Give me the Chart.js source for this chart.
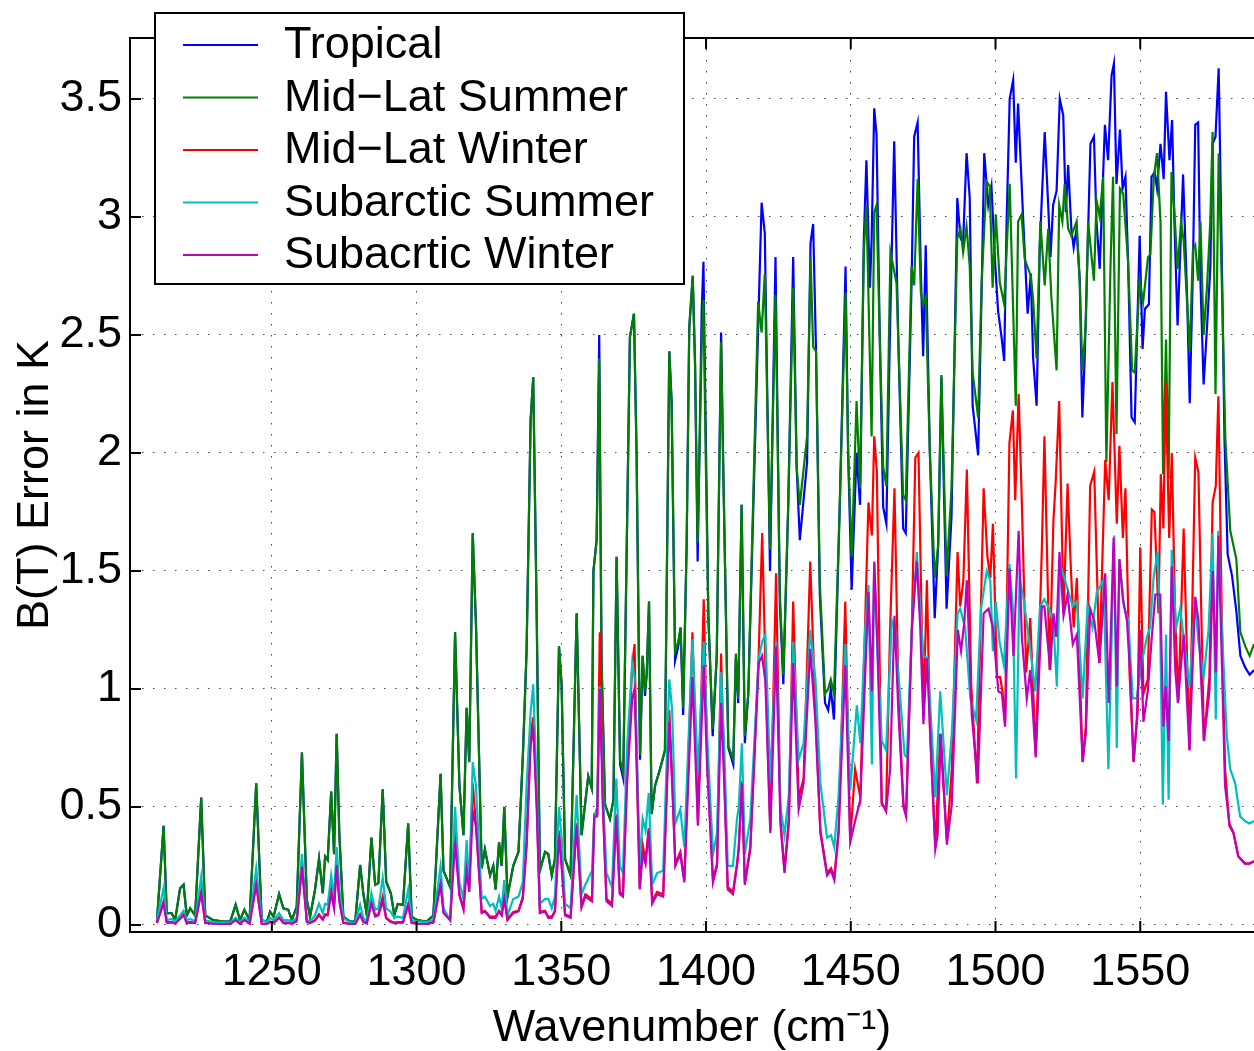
<!DOCTYPE html>
<html>
<head>
<meta charset="utf-8">
<script src="https://cdn.jsdelivr.net/npm/chart.js@4.4.1/dist/chart.umd.min.js"></script>
<style>
  html, body { margin: 0; padding: 0; background: #fff; }
  canvas { display: block; }
</style>
</head>
<body>
<canvas id="btChart" width="1254" height="1051"></canvas>
<script>
// 各大氣模式的亮溫誤差 (K) 對波數 (cm^-1)

const seriesLabels = ['Tropical', 'Mid\u2212Lat Summer', 'Mid\u2212Lat Winter', 'Subarctic Summer', 'Subacrtic Winter'];
const seriesColors = ['#0000ff', '#008000', '#ff0000', '#00bfbf', '#bf00bf'];

const xTicks = [1250, 1300, 1350, 1400, 1450, 1500, 1550];
const yTicks = [0, 0.5, 1, 1.5, 2, 2.5, 3, 3.5];

// 1210-1357: 五條曲線共用的波數
const wnLeft = [
  1210.3, 1212.6, 1213.7, 1215.4, 1216.6, 1218.3, 1219.5, 1220.6, 1221.8, 1223.5,
  1225.6, 1227.0, 1229.8, 1233.3, 1235.6, 1237.5, 1239.0, 1240.5, 1242.3, 1244.6,
  1246.5, 1248.3, 1249.4, 1250.6, 1252.5, 1254.0, 1255.7, 1256.9, 1258.6, 1260.4,
  1262.1, 1263.2, 1264.9, 1266.3, 1267.6, 1268.4, 1269.3, 1270.5, 1271.5, 1272.4,
  1273.3, 1274.7, 1277.0, 1278.8, 1280.5, 1281.6, 1282.8, 1284.4, 1285.7, 1286.8,
  1288.3, 1289.5, 1291.1, 1292.3, 1293.5, 1295.3, 1297.1, 1298.3, 1300.1, 1303.5,
  1305.8, 1308.3, 1309.3, 1311.6, 1313.3, 1314.8, 1316.2, 1317.3, 1318.2, 1319.4,
  1320.5, 1322.5, 1323.6, 1325.4, 1326.5, 1327.3, 1328.5, 1329.4, 1330.3, 1331.4,
  1333.4, 1335.2, 1336.7, 1338.0, 1339.4, 1340.3, 1341.5, 1342.6, 1344.4, 1345.5,
  1346.7, 1347.8, 1349.2, 1350.1, 1351.3, 1353.2, 1355.3, 1357.0
];
// Tropical 與 Mid-Lat Summer 在此段幾乎重合
const btLeftHigh = [
  0.014, 0.42, 0.05, 0.05, 0.02, 0.155, 0.17, 0.04, 0.07, 0.04,
  0.54, 0.04, 0.02, 0.014, 0.014, 0.085, 0.02, 0.064, 0.02, 0.60,
  0.02, 0.014, 0.056, 0.035, 0.13, 0.07, 0.064, 0.02, 0.078, 0.73,
  0.106, 0.035, 0.148, 0.28, 0.134, 0.29, 0.275, 0.565, 0.30, 0.81,
  0.39, 0.035, 0.014, 0.014, 0.254, 0.134, 0.042, 0.37, 0.17, 0.177,
  0.575, 0.184, 0.134, 0.042, 0.089, 0.085, 0.43, 0.035, 0.02, 0.014,
  0.04, 0.64, 0.23, 0.16, 1.24, 0.59, 0.38, 0.92, 0.69, 1.66,
  1.28, 0.24, 0.32, 0.21, 0.25, 0.15, 0.35, 0.25, 0.50, 0.12,
  0.25, 0.31, 0.71, 1.16, 2.14, 2.32, 1.31, 0.23, 0.31, 0.30,
  0.21, 0.28, 1.18, 1.02, 0.28, 0.21, 1.32, 0.38
];
const btLeftMlw = [
  0.010, 0.10, 0.012, 0.012, 0.008, 0.03, 0.045, 0.01, 0.012, 0.01,
  0.14, 0.01, 0.006, 0.005, 0.005, 0.022, 0.006, 0.022, 0.006, 0.175,
  0.006, 0.005, 0.015, 0.01, 0.032, 0.01, 0.01, 0.006, 0.02, 0.25,
  0.015, 0.01, 0.02, 0.045, 0.025, 0.045, 0.045, 0.17, 0.08, 0.26,
  0.11, 0.01, 0.005, 0.005, 0.045, 0.015, 0.008, 0.095, 0.04, 0.045,
  0.12, 0.03, 0.015, 0.01, 0.012, 0.012, 0.088, 0.01, 0.006, 0.005,
  0.012, 0.18, 0.055, 0.02, 0.40, 0.13, 0.07, 0.28, 0.15, 0.60,
  0.43, 0.055, 0.06, 0.035, 0.035, 0.035, 0.06, 0.045, 0.12, 0.025,
  0.055, 0.06, 0.12, 0.35, 0.80, 0.88, 0.52, 0.055, 0.06, 0.035,
  0.035, 0.06, 0.40, 0.26, 0.045, 0.035, 0.43, 0.08
];
const btLeftSas = [
  0.02, 0.155, 0.02, 0.025, 0.015, 0.04, 0.06, 0.02, 0.025, 0.015,
  0.205, 0.02, 0.012, 0.01, 0.01, 0.03, 0.01, 0.03, 0.012, 0.24,
  0.02, 0.012, 0.03, 0.02, 0.05, 0.02, 0.02, 0.012, 0.03, 0.30,
  0.02, 0.015, 0.04, 0.09, 0.05, 0.09, 0.085, 0.21, 0.12, 0.33,
  0.15, 0.03, 0.01, 0.01, 0.085, 0.03, 0.015, 0.134, 0.064, 0.07,
  0.20, 0.07, 0.055, 0.03, 0.035, 0.03, 0.148, 0.02, 0.015, 0.012,
  0.02, 0.25, 0.07, 0.02, 0.50, 0.18, 0.11, 0.36, 0.16, 0.69,
  0.59, 0.11, 0.12, 0.08, 0.09, 0.06, 0.12, 0.07, 0.19, 0.04,
  0.11, 0.12, 0.18, 0.59, 0.90, 1.02, 0.59, 0.09, 0.11, 0.11,
  0.07, 0.12, 0.50, 0.37, 0.09, 0.07, 0.55, 0.13
];
const btLeftSaw = [
  0.008, 0.092, 0.01, 0.01, 0.006, 0.025, 0.042, 0.008, 0.01, 0.008,
  0.137, 0.008, 0.005, 0.004, 0.004, 0.02, 0.005, 0.02, 0.005, 0.17,
  0.005, 0.004, 0.012, 0.008, 0.03, 0.008, 0.008, 0.005, 0.015, 0.247,
  0.012, 0.008, 0.018, 0.042, 0.022, 0.04, 0.04, 0.134, 0.07, 0.254,
  0.10, 0.008, 0.004, 0.004, 0.042, 0.012, 0.006, 0.092, 0.035, 0.04,
  0.10, 0.028, 0.012, 0.008, 0.01, 0.01, 0.085, 0.008, 0.005, 0.004,
  0.01, 0.17, 0.05, 0.02, 0.35, 0.125, 0.065, 0.23, 0.14, 0.48,
  0.42, 0.05, 0.057, 0.03, 0.03, 0.03, 0.057, 0.04, 0.11, 0.02,
  0.05, 0.057, 0.11, 0.33, 0.76, 0.84, 0.50, 0.05, 0.057, 0.03,
  0.03, 0.057, 0.38, 0.25, 0.04, 0.03, 0.42, 0.074
];

// 1359-1590: 各曲線自己的波數
const tropWn = [
  1359.3, 1360.5, 1361.1, 1362.2, 1363.1, 1363.9, 1365.1, 1366.8, 1368.0, 1369.1,
  1370.3, 1371.4, 1373.7, 1375.1, 1376.0, 1377.2, 1378.1, 1378.9, 1379.5, 1380.3,
  1381.2, 1382.4, 1384.1, 1385.8, 1387.3, 1388.1, 1389.3, 1390.4, 1391.2, 1392.1,
  1393.3, 1394.2, 1395.4, 1396.2, 1397.1, 1398.5, 1399.1, 1400.0, 1400.8, 1402.3,
  1403.7, 1405.2, 1406.0, 1407.7, 1409.4, 1410.3, 1411.1, 1412.3, 1413.4, 1414.6,
  1418.0, 1419.2, 1420.3, 1422.1, 1424.0, 1425.5, 1426.7, 1428.4, 1430.1, 1431.3,
  1432.4, 1434.9, 1436.1, 1437.0, 1438.0, 1439.3, 1441.1, 1442.2, 1443.1, 1444.2,
  1446.2, 1448.2, 1449.1, 1450.3, 1452.0, 1453.2, 1454.5, 1455.4, 1456.6, 1457.2,
  1458.1, 1458.9, 1460.0, 1461.2, 1462.3, 1463.5, 1465.0, 1466.4, 1468.1, 1469.0,
  1471.0, 1471.9, 1473.1, 1474.2, 1475.0, 1475.9, 1477.3, 1479.0, 1480.2, 1481.3,
  1483.1, 1484.8, 1486.8, 1487.9, 1488.8, 1490.0, 1491.1, 1492.1, 1494.0, 1495.2,
  1496.1, 1497.5, 1498.6, 1499.8, 1500.9, 1502.1, 1503.0, 1503.8, 1504.9, 1506.1,
  1507.0, 1507.8, 1509.6, 1511.1, 1512.2, 1513.0, 1514.2, 1515.3, 1517.0, 1518.2,
  1519.0, 1519.9, 1521.1, 1522.2, 1523.4, 1524.3, 1525.1, 1526.2, 1527.0, 1528.0,
  1529.1, 1530.0, 1530.8, 1532.8, 1534.0, 1534.9, 1536.0, 1537.8, 1538.9, 1540.1,
  1540.9, 1541.8, 1543.0, 1543.9, 1544.9, 1545.8, 1547.0, 1548.1, 1549.8, 1550.8,
  1551.6, 1553.0, 1553.9, 1555.0, 1555.8, 1557.0, 1558.1, 1558.9, 1560.1, 1561.0,
  1561.8, 1562.9, 1564.8, 1566.2, 1567.1, 1568.2, 1569.0, 1570.0, 1570.8, 1571.9,
  1573.1, 1574.2, 1575.0, 1576.0, 1577.1, 1578.3, 1579.1, 1580.2, 1581.7, 1583.2,
  1584.6, 1586.3, 1587.8, 1589.3
];
const tropBT = [
  0.63, 0.58, 1.50, 1.63, 2.50, 1.12, 0.51, 0.45, 0.53, 1.56,
  0.68, 0.62, 2.49, 2.59, 2.0, 0.70, 1.14, 0.97, 1.06, 1.37,
  0.47, 0.59, 0.66, 0.74, 2.43, 2.22, 1.12, 1.18, 1.26, 0.89,
  1.61, 2.53, 2.75, 2.38, 1.54, 2.6, 2.81, 2.0, 1.31, 0.80,
  1.14, 2.51, 1.9, 0.75, 0.68, 1.13, 0.94, 1.78, 0.77, 0.98,
  2.53, 3.06, 2.93, 1.50, 2.83, 1.36, 1.02, 1.78, 2.83, 1.94,
  1.63, 1.96, 2.89, 2.97, 2.43, 1.40, 0.94, 0.91, 1.0, 0.87,
  1.78, 2.79, 1.99, 1.42, 2.0, 1.78, 2.9, 3.24, 2.7, 2.9,
  3.46, 3.35, 2.5, 1.77, 1.70, 2.49, 3.32, 2.49, 1.68, 1.66,
  2.72, 3.34, 3.40, 2.77, 2.41, 2.88, 2.01, 1.30, 1.61, 2.32,
  1.34, 1.73, 3.08, 2.91, 2.89, 3.27, 3.08, 2.20, 1.99, 2.68,
  3.27, 3.05, 3.13, 2.82, 2.60, 2.49, 2.39, 2.96, 3.50, 3.58,
  3.23, 3.48, 2.98, 2.59, 2.76, 2.40, 2.20, 2.88, 3.36, 3.05,
  2.83, 3.05, 3.11, 3.50, 3.43, 3.02, 3.22, 2.95, 2.87, 2.95,
  2.73, 2.15, 2.40, 3.31, 3.34, 2.98, 2.78, 3.39, 3.24, 3.60,
  3.65, 3.14, 3.37, 3.12, 3.17, 2.81, 2.15, 2.13, 2.92, 2.44,
  2.61, 2.63, 3.17, 3.19, 3.12, 3.31, 3.16, 3.53, 3.24, 3.41,
  2.98, 2.54, 3.18, 2.66, 2.21, 2.78, 3.39, 3.40, 2.73, 2.29,
  2.54, 2.78, 3.31, 3.34, 3.63, 2.73, 2.06, 1.57, 1.48, 1.33,
  1.14, 1.09, 1.06, 1.08
];

const mlsWn = [
  1359.3, 1360.5, 1361.1, 1362.2, 1363.1, 1363.9, 1365.1, 1366.8, 1368.0, 1369.1,
  1370.3, 1371.4, 1373.7, 1375.1, 1376.0, 1377.2, 1378.1, 1378.9, 1379.5, 1380.3,
  1381.2, 1382.4, 1384.1, 1385.8, 1387.3, 1388.1, 1389.3, 1390.4, 1391.2, 1392.1,
  1393.3, 1394.2, 1395.4, 1396.2, 1397.1, 1398.5, 1399.1, 1400.0, 1400.8, 1402.3,
  1403.7, 1405.2, 1406.0, 1407.7, 1409.4, 1410.3, 1411.1, 1412.3, 1413.4, 1414.6,
  1418.0, 1419.2, 1420.3, 1422.1, 1424.0, 1425.5, 1426.7, 1428.4, 1430.1, 1431.3,
  1432.4, 1434.9, 1436.1, 1437.0, 1438.0, 1439.3, 1441.1, 1442.2, 1443.1, 1444.2,
  1446.2, 1448.2, 1449.1, 1450.3, 1452.0, 1453.2, 1454.5, 1455.4, 1456.6, 1457.2,
  1458.1, 1458.9, 1460.0, 1461.2, 1462.3, 1463.7, 1465.8, 1468.1, 1469.0, 1471.0,
  1471.9, 1473.1, 1474.2, 1475.0, 1475.9, 1477.3, 1479.0, 1480.2, 1481.3, 1483.1,
  1484.8, 1486.8, 1487.9, 1488.8, 1490.0, 1491.1, 1492.1, 1494.0, 1495.2, 1496.9,
  1498.0, 1499.0, 1500.1, 1501.5, 1503.0, 1504.9, 1507.0, 1507.8, 1509.0, 1510.1,
  1512.2, 1513.0, 1514.2, 1515.5, 1517.0, 1518.2, 1519.3, 1521.1, 1522.0, 1523.1,
  1523.9, 1525.1, 1526.2, 1528.0, 1529.1, 1530.0, 1531.2, 1532.0, 1534.0, 1534.9,
  1536.0, 1537.2, 1538.3, 1539.7, 1540.6, 1541.8, 1543.0, 1544.1, 1545.8, 1547.2,
  1548.1, 1549.8, 1551.0, 1552.7, 1553.5, 1554.7, 1555.8, 1557.0, 1557.9, 1558.9,
  1559.8, 1560.8, 1561.8, 1562.9, 1564.1, 1565.0, 1567.1, 1568.2, 1569.0, 1570.0,
  1570.8, 1571.9, 1573.1, 1574.2, 1575.0, 1576.0, 1577.1, 1578.3, 1579.4, 1581.1,
  1583.2, 1584.6, 1586.3, 1587.8, 1589.3
];
const mlsBT = [
  0.63, 0.58, 1.50, 1.63, 2.40, 1.12, 0.51, 0.45, 0.53, 1.56,
  0.70, 0.64, 2.49, 2.59, 2.0, 0.72, 1.14, 0.99, 1.06, 1.37,
  0.47, 0.59, 0.66, 0.74, 2.43, 2.22, 1.16, 1.20, 1.26, 0.92,
  1.61, 2.53, 2.75, 2.38, 1.62, 2.45, 2.65, 1.9, 1.31, 0.83,
  1.14, 2.47, 1.9, 0.76, 0.70, 1.15, 0.96, 1.78, 0.80, 0.98,
  2.64, 2.51, 2.76, 1.59, 2.67, 1.40, 1.06, 1.78, 2.70, 1.94,
  1.78, 2.07, 2.83, 2.45, 2.43, 1.45, 0.98, 1.0, 1.04, 0.98,
  1.78, 2.68, 2.0, 1.56, 2.22, 1.85, 2.85, 3.05, 2.4, 2.07,
  3.02, 3.05, 2.5, 1.94, 1.86, 2.85, 2.72, 1.82, 1.80, 2.79,
  2.71, 3.16, 2.68, 2.63, 2.66, 2.01, 1.47, 1.61, 2.33, 1.48,
  1.85, 2.91, 2.95, 2.85, 2.96, 2.79, 2.34, 2.15, 2.72, 3.15,
  3.13, 2.70, 3.01, 2.72, 2.63, 3.14, 2.20, 2.98, 3.01, 2.82,
  2.75, 2.65, 2.40, 2.98, 2.71, 2.95, 2.66, 2.35, 3.05, 2.98,
  3.14, 2.95, 2.92, 2.98, 2.73, 2.35, 2.54, 2.98, 2.73, 3.07,
  3.0, 3.17, 1.96, 2.78, 3.17, 2.08, 3.12, 3.10, 2.81, 2.35,
  2.34, 2.73, 2.64, 2.83, 2.84, 3.17, 3.27, 2.98, 1.91, 2.48,
  1.89, 3.19, 3.02, 2.78, 2.98, 2.90, 2.43, 2.86, 2.88, 2.73,
  2.98, 2.50, 2.71, 2.98, 3.36, 2.25, 3.27, 2.66, 2.06, 1.67,
  1.55, 1.24, 1.18, 1.14, 1.19
];

// 三條較低曲線 1358-1448 共用波數
const wnMid = [
  1358.3, 1360.6, 1361.4, 1362.4, 1363.3, 1364.4, 1365.6, 1367.5, 1369.0, 1370.2,
  1371.3, 1372.7, 1374.5, 1375.3, 1376.2, 1377.1, 1378.1, 1379.1, 1380.2, 1381.4,
  1383.1, 1385.2, 1387.3, 1388.3, 1389.4, 1391.1, 1392.5, 1395.3, 1397.2, 1399.2,
  1400.4, 1402.4, 1403.8, 1405.2, 1406.3, 1407.5, 1409.3, 1410.7, 1411.3, 1412.4,
  1413.4, 1415.3, 1418.2, 1419.4, 1420.5, 1422.2, 1424.2, 1425.7, 1427.1, 1428.6,
  1430.1, 1432.0, 1433.7, 1436.0, 1437.8, 1439.5, 1441.8, 1443.2, 1444.3, 1445.8,
  1448.1
];
const mlwMid = [
  0.13, 0.11, 0.47, 0.47, 1.24, 0.50, 0.11, 0.09, 0.47, 0.14,
  0.13, 0.62, 1.10, 1.19, 0.62, 0.16, 0.34, 0.27, 0.41, 0.10,
  0.14, 0.13, 0.91, 0.62, 0.26, 0.31, 0.19, 1.24, 0.43, 1.38,
  0.70, 0.19, 0.26, 1.15, 0.62, 0.16, 0.14, 0.26, 0.33, 0.61,
  0.18, 0.33, 1.15, 1.66, 1.10, 0.40, 1.49, 0.45, 0.23, 0.45,
  1.37, 0.54, 0.62, 1.54, 0.90, 0.40, 0.22, 0.24, 0.20, 0.40,
  1.37
];
const sasMid = [
  0.17, 0.23, 0.46, 0.50, 1.01, 0.55, 0.22, 0.16, 0.62, 0.25,
  0.22, 0.75, 1.11, 1.05, 0.70, 0.25, 0.45, 0.40, 0.56, 0.17,
  0.22, 0.23, 1.04, 0.91, 0.43, 0.49, 0.33, 1.21, 0.64, 1.20,
  0.80, 0.30, 0.39, 1.07, 0.75, 0.25, 0.25, 0.45, 0.50, 0.77,
  0.30, 0.45, 1.13, 1.20, 1.23, 0.61, 1.20, 0.50, 0.38, 0.55,
  1.20, 0.70, 0.77, 1.25, 1.04, 0.60, 0.37, 0.38, 0.33, 0.55,
  1.19
];
const sawMid = [
  0.12, 0.10, 0.46, 0.46, 1.00, 0.49, 0.10, 0.08, 0.46, 0.13,
  0.12, 0.60, 0.96, 1.00, 0.60, 0.15, 0.30, 0.26, 0.40, 0.09,
  0.13, 0.12, 0.86, 0.60, 0.25, 0.30, 0.18, 1.05, 0.42, 1.10,
  0.66, 0.18, 0.25, 0.94, 0.60, 0.15, 0.13, 0.25, 0.32, 0.60,
  0.17, 0.32, 1.11, 1.14, 1.03, 0.39, 1.18, 0.43, 0.22, 0.43,
  1.11, 0.49, 0.60, 1.17, 0.86, 0.39, 0.21, 0.23, 0.19, 0.39,
  1.10
];

// 1450-1590: 較低曲線各自的波數
const mlwWn = [
  1449.8, 1451.5, 1453.3, 1456.1, 1457.3, 1458.1, 1459.0, 1460.7, 1462.2, 1463.6,
  1465.1, 1466.5, 1468.2, 1469.1, 1471.1, 1472.3, 1473.4, 1475.1, 1476.3, 1477.4,
  1479.2, 1480.9, 1483.2, 1484.9, 1486.9, 1487.8, 1488.9, 1490.1, 1491.6, 1493.6,
  1495.9, 1497.2, 1498.2, 1499.1, 1500.5, 1501.6, 1502.4, 1503.3, 1504.8, 1506.0,
  1506.8, 1508.0, 1509.1, 1510.6, 1512.0, 1513.9, 1516.0, 1516.9, 1518.7, 1520.0,
  1520.8, 1522.0, 1523.5, 1524.9, 1526.0, 1527.0, 1528.1, 1530.1, 1531.2, 1532.7,
  1534.1, 1535.9, 1537.9, 1539.1, 1540.4, 1541.9, 1542.8, 1544.0, 1544.9, 1546.3,
  1547.7, 1549.1, 1550.0, 1551.1, 1552.6, 1554.0, 1554.9, 1556.3, 1557.1, 1558.0,
  1558.8, 1560.0, 1560.9, 1562.1, 1563.2, 1565.0, 1567.0, 1569.0, 1570.1, 1572.0,
  1573.9, 1575.0, 1576.1, 1577.0, 1578.2, 1579.3, 1580.8, 1582.2, 1583.9, 1586.2,
  1587.7, 1589.3
];
const mlwBT = [
  0.36, 0.66, 0.54, 1.79, 1.65, 2.07, 1.92, 0.51, 0.49, 1.26,
  1.85, 0.96, 0.51, 0.47, 1.26, 1.98, 2.0, 0.89, 1.46, 0.81,
  0.33, 0.81, 0.36, 0.66, 1.58, 1.35, 1.46, 1.93, 1.02, 0.60,
  1.85, 1.56, 1.47, 1.70, 1.05, 1.05, 0.99, 0.86, 2.04, 2.18,
  1.80, 2.25, 1.79, 1.07, 1.30, 0.72, 1.59, 2.07, 1.08, 1.71,
  1.88, 2.22, 1.32, 1.87, 1.52, 1.26, 1.47, 0.69, 0.84, 1.86,
  1.92, 1.11, 1.97, 1.80, 2.30, 1.70, 2.03, 1.64, 1.85, 1.07,
  0.69, 0.90, 1.60, 0.98, 1.04, 1.76, 1.75, 1.32, 1.91, 1.68,
  2.30, 1.64, 2.0, 1.29, 0.95, 1.68, 0.74, 1.98, 1.92, 0.78,
  1.05, 1.79, 1.86, 2.24, 1.29, 0.66, 0.42, 0.39, 0.29, 0.26,
  0.26, 0.27
];

const sasWn = [
  1449.8, 1452.1, 1453.3, 1455.0, 1456.1, 1457.3, 1458.1, 1459.0, 1460.7, 1462.2,
  1464.2, 1465.3, 1467.1, 1468.6, 1469.4, 1471.1, 1472.8, 1474.0, 1475.1, 1476.5,
  1478.0, 1479.2, 1480.9, 1483.2, 1484.9, 1486.9, 1487.8, 1489.5, 1491.3, 1493.3,
  1495.0, 1497.0, 1498.2, 1499.1, 1500.1, 1501.4, 1502.9, 1504.8, 1506.0, 1507.1,
  1508.3, 1509.7, 1512.0, 1513.7, 1515.4, 1516.9, 1518.5, 1520.0, 1521.2, 1522.3,
  1523.8, 1525.2, 1526.7, 1528.1, 1530.1, 1531.8, 1533.5, 1535.0, 1536.4, 1537.3,
  1539.0, 1541.0, 1541.9, 1542.8, 1544.4, 1545.9, 1547.4, 1548.8, 1550.5, 1552.3,
  1553.4, 1554.6, 1556.0, 1556.9, 1557.8, 1558.9, 1559.8, 1560.9, 1562.4, 1563.8,
  1565.5, 1567.0, 1569.0, 1570.1, 1571.9, 1573.6, 1575.0, 1576.1, 1577.0, 1578.2,
  1579.9, 1581.1, 1582.8, 1584.5, 1586.2, 1587.7, 1589.3
];
const sasBT = [
  0.57, 0.93, 0.77, 1.26, 1.44, 0.68, 1.53, 1.23, 0.78, 0.74,
  1.29, 1.25, 0.96, 0.72, 0.71, 1.26, 1.58, 1.34, 1.14, 1.13,
  0.81, 0.54, 0.99, 0.55, 0.81, 1.32, 1.34, 1.26, 0.96, 0.87,
  1.34, 1.50, 1.46, 1.16, 1.37, 1.20, 1.10, 1.53, 1.34, 0.62,
  1.47, 1.38, 1.17, 0.99, 1.35, 1.38, 1.34, 1.28, 1.01, 1.53,
  1.47, 1.41, 1.35, 1.37, 0.96, 1.35, 1.26, 1.41, 1.44, 1.46,
  0.66, 1.65, 0.75, 1.55, 1.35, 1.29, 0.96, 0.96, 1.11, 1.22,
  1.26, 1.47, 1.58, 1.26, 0.51, 1.23, 0.53, 1.59, 1.26, 1.34,
  1.17, 1.01, 1.37, 1.20, 1.05, 1.25, 1.66, 0.87, 1.67, 1.26,
  0.80, 0.66, 0.60, 0.46, 0.44, 0.43, 0.44
];

const sawWn = [
  1449.8, 1451.5, 1453.3, 1456.1, 1457.3, 1458.1, 1459.0, 1460.7, 1462.2, 1463.6,
  1465.1, 1466.5, 1468.2, 1469.1, 1471.1, 1472.8, 1474.0, 1475.1, 1476.3, 1478.0,
  1479.2, 1480.0, 1481.1, 1483.2, 1484.9, 1487.0, 1488.1, 1489.2, 1490.1, 1491.8,
  1493.9, 1495.9, 1497.6, 1499.1, 1501.0, 1502.2, 1503.3, 1504.8, 1506.2, 1508.0,
  1509.1, 1510.8, 1512.0, 1513.9, 1516.0, 1516.9, 1518.9, 1520.0, 1521.0, 1522.1,
  1523.5, 1524.9, 1526.7, 1528.1, 1530.1, 1531.2, 1532.7, 1534.1, 1535.9, 1537.9,
  1539.1, 1540.8, 1541.9, 1542.8, 1544.0, 1545.4, 1546.5, 1547.7, 1548.8, 1550.0,
  1551.1, 1552.6, 1554.0, 1555.2, 1556.9, 1558.0, 1558.8, 1559.8, 1560.9, 1562.1,
  1563.0, 1565.0, 1567.0, 1569.0, 1570.1, 1572.0, 1573.9, 1575.1, 1576.1, 1577.0,
  1578.2, 1579.3, 1580.8, 1582.2, 1583.9, 1586.2, 1587.7, 1589.3
];
const sawBT = [
  0.35, 0.44, 0.53, 1.41, 0.99, 1.54, 1.26, 0.52, 0.48, 0.66,
  1.31, 0.89, 0.50, 0.46, 1.25, 1.54, 1.26, 0.85, 1.13, 0.66,
  0.32, 0.38, 0.81, 0.34, 0.51, 1.25, 1.16, 1.28, 1.46, 0.89,
  0.60, 1.32, 1.34, 1.26, 0.99, 0.98, 0.84, 1.51, 1.14, 1.67,
  1.22, 0.96, 1.08, 0.71, 1.35, 1.35, 1.08, 1.32, 1.22, 1.58,
  1.31, 1.40, 1.19, 1.23, 0.69, 0.81, 1.34, 1.29, 1.11, 1.49,
  0.94, 1.64, 1.01, 1.55, 1.38, 1.29, 1.07, 0.69, 0.87, 1.25,
  0.86, 0.99, 1.22, 1.40, 1.40, 0.84, 1.01, 0.78, 1.52, 1.08,
  0.94, 1.23, 0.74, 1.39, 1.29, 0.78, 0.99, 1.50, 1.07, 1.65,
  1.11, 0.59, 0.43, 0.39, 0.29, 0.26, 0.26, 0.27
];

const FONT = '"Liberation Sans", Arial, Helvetica, sans-serif';

function toPoints(wn, bt) {
  return wn.map((w, i) => ({ x: w, y: bt[i] }));
}

const seriesData = [
  toPoints(wnLeft, btLeftHigh).concat(toPoints(tropWn, tropBT)),
  toPoints(wnLeft, btLeftHigh).concat(toPoints(mlsWn, mlsBT)),
  toPoints(wnLeft, btLeftMlw).concat(toPoints(wnMid, mlwMid), toPoints(mlwWn, mlwBT)),
  toPoints(wnLeft, btLeftSas).concat(toPoints(wnMid, sasMid), toPoints(sasWn, sasBT)),
  toPoints(wnLeft, btLeftSaw).concat(toPoints(wnMid, sawMid), toPoints(sawWn, sawBT))
];

// 內向刻度、上框線與圖例 (MATLAB 風格)
const matlabAxes = {
  id: 'matlabAxes',
  afterDraw(chart) {
    const { ctx, chartArea: a, scales } = chart;
    ctx.save();
    ctx.strokeStyle = '#000';
    ctx.lineWidth = 2;
    ctx.beginPath();
    xTicks.forEach(v => {
      const px = scales.x.getPixelForValue(v);
      ctx.moveTo(px, a.bottom);
      ctx.lineTo(px, a.bottom - 11);
      ctx.moveTo(px, a.top);
      ctx.lineTo(px, a.top + 11);
    });
    yTicks.forEach(v => {
      const py = scales.y.getPixelForValue(v);
      ctx.moveTo(a.left, py);
      ctx.lineTo(a.left + 11, py);
    });
    ctx.moveTo(a.left, a.top);
    ctx.lineTo(a.right, a.top);
    ctx.stroke();

    // 圖例
    const box = { x: 155, y: 13, w: 529, h: 271 };
    ctx.fillStyle = '#fff';
    ctx.fillRect(box.x, box.y, box.w, box.h);
    ctx.lineWidth = 2;
    ctx.strokeRect(box.x, box.y, box.w, box.h);
    ctx.font = '45px ' + FONT;
    ctx.textBaseline = 'middle';
    ctx.textAlign = 'left';
    chart.data.datasets.forEach((ds, i) => {
      const cy = 46 + i * 52.5;
      ctx.strokeStyle = ds.borderColor;
      ctx.lineWidth = 2;
      ctx.beginPath();
      ctx.moveTo(183, cy - 1);
      ctx.lineTo(258, cy - 1);
      ctx.stroke();
      ctx.fillStyle = '#000';
      ctx.fillText(ds.label, 284, cy);
    });
    ctx.restore();
  }
};

new Chart(document.getElementById('btChart'), {
  type: 'line',
  data: {
    datasets: seriesLabels.map((label, i) => ({
      label: label,
      data: seriesData[i],
      borderColor: seriesColors[i],
      backgroundColor: seriesColors[i],
      borderWidth: 2.2,
      pointRadius: 0,
      tension: 0,
      fill: false,
      order: seriesLabels.length - i
    }))
  },
  options: {
    responsive: false,
    animation: false,
    layout: { padding: { top: 38, left: 0, right: 0, bottom: 0 } },
    plugins: {
      legend: { display: false },
      tooltip: { enabled: false }
    },
    scales: {
      x: {
        type: 'linear',
        min: 1201,
        max: 1589.3,
        afterBuildTicks: s => { s.ticks = xTicks.map(v => ({ value: v })); },
        afterFit: s => { s.height = 119; },
        grid: { color: '#444', lineWidth: 1, drawTicks: false },
        border: { display: true, color: '#000', width: 2, dash: [1.5, 9.5] },
        ticks: {
          padding: 14,
          color: '#000',
          autoSkip: false,
          maxRotation: 0,
          font: { family: FONT, size: 45 },
          callback: v => String(v)
        },
        title: {
          display: true,
          text: 'Wavenumber (cm\u207B\u00B9)',
          color: '#000',
          font: { family: FONT, size: 45, lineHeight: 1 },
          padding: { top: 0, bottom: 0 }
        }
      },
      y: {
        type: 'linear',
        min: -0.03,
        max: 3.758,
        afterBuildTicks: s => { s.ticks = yTicks.map(v => ({ value: v })); },
        afterFit: s => { s.width = 130; },
        grid: { color: '#444', lineWidth: 1, drawTicks: false },
        border: { display: true, color: '#000', width: 2, dash: [1.5, 9.5] },
        ticks: {
          padding: 8,
          color: '#000',
          font: { family: FONT, size: 45 },
          callback: v => String(v)
        },
        title: {
          display: true,
          text: 'B(T) Error in K',
          color: '#000',
          font: { family: FONT, size: 45 },
          padding: { top: 9, bottom: 0 }
        }
      }
    }
  },
  plugins: [matlabAxes]
});
</script>
</body>
</html>
